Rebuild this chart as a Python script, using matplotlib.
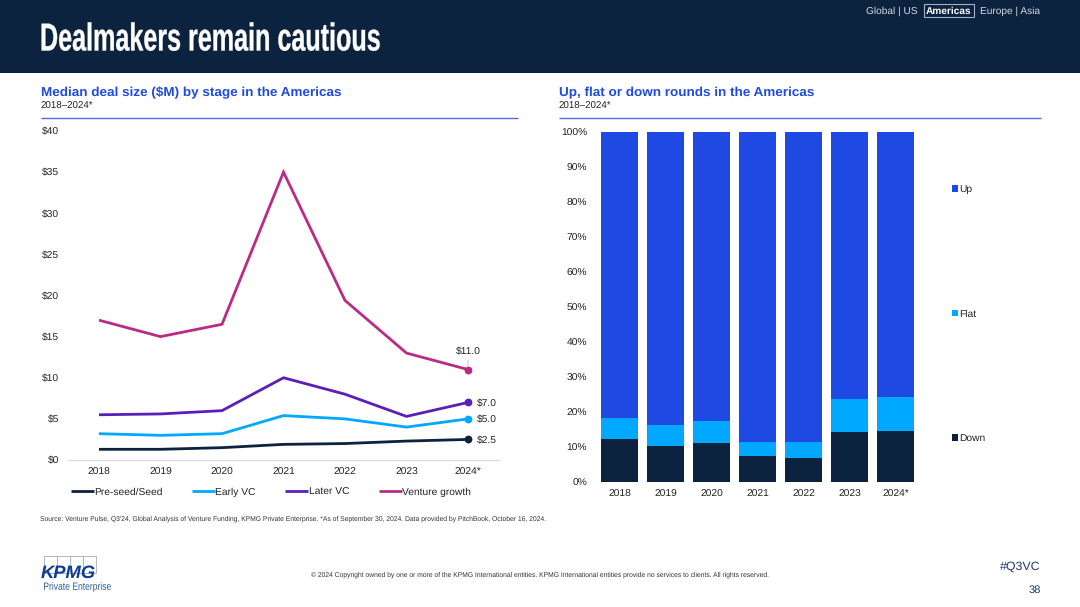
import matplotlib
matplotlib.use("Agg")
import matplotlib.pyplot as plt
from matplotlib.patches import Rectangle
from matplotlib.lines import Line2D
from matplotlib.patheffects import AbstractPathEffect
from matplotlib.transforms import Affine2D

years = ["2018", "2019", "2020", "2021", "2022", "2023", "2024*"]
seed = [1.3, 1.3, 1.5, 1.9, 2.0, 2.3, 2.5]
early = [3.2, 3.0, 3.2, 5.4, 5.0, 4.0, 5.0]
later = [5.5, 5.6, 6.0, 10.0, 8.0, 5.3, 7.0]
growth = [17.0, 15.0, 16.5, 35.0, 19.4, 13.0, 11.0]
down = [12.2, 10.4, 11.2, 7.4, 6.9, 14.3, 14.6]
flat = [6.0, 5.9, 6.1, 4.0, 4.5, 9.4, 9.8]
up = [81.8, 83.7, 82.7, 88.6, 88.6, 76.3, 75.6]

NAVY = "#0C233F"
BLUE = "#1E49E2"
CYAN = "#00A9FF"
PURPLE = "#5A1FB8"
MAGENTA = "#B92B84"
TXT = "#222222"
W, H = 1080, 607

plt.rcParams["font.family"] = ["Liberation Sans", "DejaVu Sans"]
plt.rcParams["text.hinting"] = "none"
plt.rcParams["text.hinting_factor"] = 8
plt.rcParams["lines.solid_capstyle"] = "butt"
fig = plt.figure(figsize=(W / 100, H / 100), dpi=100)


class Condense(AbstractPathEffect):
    """Draws a text narrower, as the condensed face of the reference is not installed."""

    def __init__(self, sx, x0, stroke=0.0):
        super().__init__()
        self.sx, self.x0, self.stroke = sx, x0, stroke

    def draw_path(self, renderer, gc, tpath, affine, rgbFace=None):
        squeeze = Affine2D().translate(-self.x0, 0).scale(self.sx, 1).translate(self.x0, 0)
        gc0 = renderer.new_gc()
        gc0.copy_properties(gc)
        if self.stroke:
            gc0.set_linewidth(self.stroke)
            gc0.set_foreground(rgbFace)
        else:
            gc0.set_linewidth(0)
        renderer.draw_path(gc0, tpath, affine + squeeze, rgbFace)
        gc0.restore()


def fx(x):
    return x / W


def fy(y):
    return 1 - y / H


def axes_px(x0, y0, x1, y1):
    return fig.add_axes([fx(x0), fy(y1), (x1 - x0) / W, (y1 - y0) / H])


def t(x, y, s, size, color=TXT, ha="left", weight="normal", va="center", **kw):
    return fig.text(fx(x), fy(y), s, fontsize=size, color=color, ha=ha, va=va,
                    fontweight=weight, **kw)


fig.add_artist(Rectangle((0, fy(73)), 1, 73 / H, transform=fig.transFigure, fc=NAVY, ec="none"))
title = t(40, 50.5, "Dealmakers remain cautious", 28, "white", weight="bold", va="baseline")
title.set_path_effects([Condense(0.646, 40, stroke=0.25)])

t(866, 11, "Global | US", 7.3, "#D5DAE2")
fig.add_artist(Rectangle((fx(923.5), fy(16.5)), 51 / W, 12.5 / H, transform=fig.transFigure,
                         fc="none", ec="#9FB0C8", lw=0.8))
t(949, 11, "Americas", 7.3, "white", ha="center", weight="bold")
t(1040.5, 11, "Europe | Asia", 7.3, "#D5DAE2", ha="right")

t(41, 93, "Median deal size ($M) by stage in the Americas", 9.7, BLUE, weight="bold")
t(41, 106, "2018–2024*", 7.0)
t(559, 93, "Up, flat or down rounds in the Americas", 9.7, BLUE, weight="bold")
t(559, 106, "2018–2024*", 7.0)
for a, b in ((41, 517.5), (559, 1040.5)):
    fig.add_artist(Line2D([fx(a), fx(b)], [fy(118), fy(118)], color="#4C6FE0", lw=1.0))

# Left chart
ax = axes_px(68.25, 131, 498.75, 460)
x = range(len(years))
for vals, c, lab in ((seed, NAVY, "Pre-seed/Seed"), (early, CYAN, "Early VC"),
                     (later, PURPLE, "Later VC"), (growth, MAGENTA, "Venture growth")):
    ax.plot(x, vals, color=c, lw=2.0, label=lab, solid_joinstyle="miter")
    ax.plot([6], [vals[-1]], "o", color=c, ms=4.6, clip_on=False)
ax.set_xlim(-0.5, 6.5)
ax.set_ylim(0, 40)
ax.set_xticks(list(x), years)
ax.set_yticks(range(0, 41, 5), [f"${v}" for v in range(0, 41, 5)])
ax.tick_params(length=0, labelsize=7.4, labelcolor=TXT)
ax.tick_params(axis="x", pad=5.8)
ax.tick_params(axis="y", pad=6.3)
for s in ("top", "left", "right"):
    ax.spines[s].set_visible(False)
ax.spines["bottom"].set_color("#DADDF0")
ax.spines["bottom"].set_linewidth(1.0)
for vals in (later, early, seed):
    ax.annotate(f"${vals[-1]:.1f}", (6, vals[-1]), xytext=(6.3, -0.8), textcoords="offset points",
                fontsize=7.4, color=TXT, va="center", ha="left")
ax.annotate(f"${growth[-1]:.1f}", (6, growth[-1]), xytext=(0, 13), textcoords="offset points",
            fontsize=7.4, color=TXT, va="center", ha="center",
            arrowprops=dict(arrowstyle="-", color="#B8C2E0", lw=0.7, shrinkA=1, shrinkB=2))
handles, labels = ax.get_legend_handles_labels()
leg = ax.legend(handles, labels, ncols=4, loc="center left",
                bbox_to_anchor=(fx(70.5), fy(492)), bbox_transform=fig.transFigure,
                frameon=False, fontsize=7.4, labelcolor=TXT, borderpad=0, borderaxespad=0,
                handlelength=2.25, handletextpad=0.05, columnspacing=2.85)

# Right chart
ax2 = axes_px(596.5, 132, 918.5, 482)
bottom2 = [a + b for a, b in zip(down, flat)]
b_down = ax2.bar(x, down, 0.8, color=NAVY, label="Down")
b_flat = ax2.bar(x, flat, 0.8, bottom=down, color=CYAN, label="Flat")
b_up = ax2.bar(x, up, 0.8, bottom=bottom2, color=BLUE, label="Up")
ax2.set_xlim(-0.5, 6.5)
ax2.set_ylim(0, 100)
ax2.set_xticks(list(x), years)
ax2.set_yticks(range(0, 101, 10), [f"{v}%" for v in range(0, 101, 10)])
ax2.tick_params(length=0, labelsize=7.4, labelcolor=TXT)
ax2.tick_params(axis="x", pad=5.8)
ax2.tick_params(axis="y", pad=6.8)
for s in ax2.spines.values():
    s.set_visible(False)
ax2.legend([b_up, b_flat, b_down], ["Up", "Flat", "Down"], loc="center left",
           bbox_to_anchor=(fx(952), fy(314)), bbox_transform=fig.transFigure,
           frameon=False, fontsize=7.4, labelcolor=TXT, borderpad=0, borderaxespad=0,
           handlelength=0.6, handleheight=0.6, handletextpad=0.1, labelspacing=11.2)

# Footer
t(40, 519, "Source: Venture Pulse, Q3'24, Global Analysis of Venture Funding, KPMG Private Enterprise. "
  "*As of September 30, 2024. Data provided by PitchBook, October 16, 2024.", 4.89, "#333333")
t(539.5, 575, "© 2024 Copyright owned by one or more of the KPMG International entities. KPMG International "
  "entities provide no services to clients. All rights reserved.", 4.84, "#333333", ha="center")
t(1040.5, 566.5, "#Q3VC", 8.9, "#1F3A6E", ha="right")
t(1040.5, 590, "38", 8.0, "#1F3A6E", ha="right")

# Logo
LOGO = "#0C3C96"
for i in range(4):
    fig.add_artist(Rectangle((fx(44 + i * 13), fy(573)), 13 / W, 17 / H,
                             transform=fig.transFigure, fc="none", ec="#A9B6CF", lw=0.7))
t(41, 578, "KPMG", 13.2, LOGO, weight="bold", style="italic", va="baseline")
pe = t(43.3, 587, "Private Enterprise", 7.6, "#2F5D9E")
pe.set_path_effects([Condense(0.81, 43.3)])

fig.savefig("out.png", dpi=100)
